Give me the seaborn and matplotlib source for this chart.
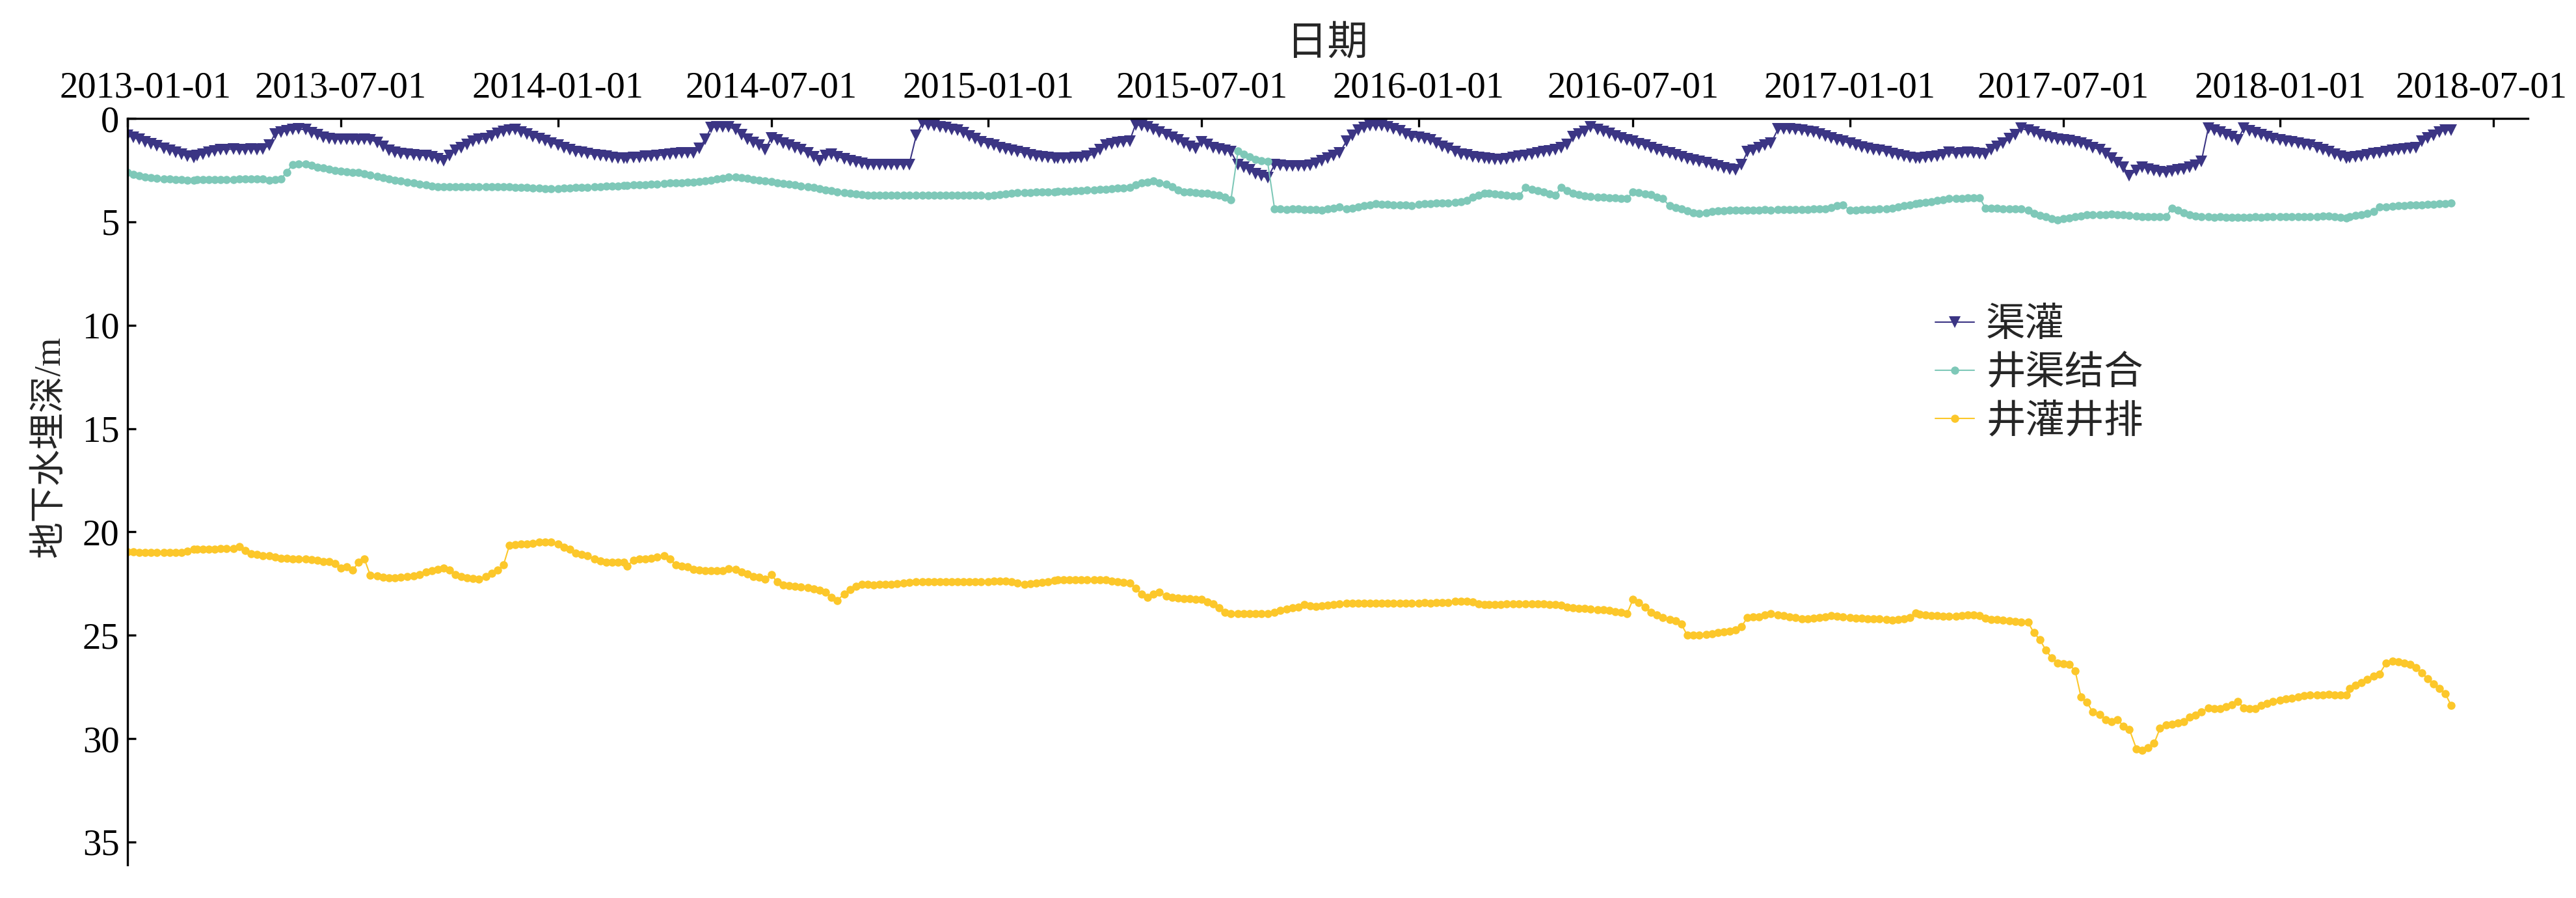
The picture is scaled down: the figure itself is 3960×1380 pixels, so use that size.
import numpy as np
import pandas as pd
import matplotlib
matplotlib.use("Agg")
import matplotlib.pyplot as plt
import matplotlib.transforms as mtransforms
import seaborn as sns

# sampling: six readings a month (1st, 6th, 11th, 16th, 21st, 26th)
months = pd.date_range("2013-01-01", "2018-05-01", freq="MS")
day_offsets = [0, 5, 10, 15, 20, 25]

names = ["渠灌", "井渠结合", "井灌井排"]
colors = ["#3b3584", "#7ec8b8", "#fcc72a"]

# 渠灌
canal = [
    0.83, 0.92, 1.02, 1.12, 1.22, 1.32,  # 2013
    1.44, 1.54, 1.64, 1.74, 1.82, 1.88,
    1.80, 1.72, 1.64, 1.58, 1.52, 1.50,
    1.48, 1.52, 1.50, 1.47, 1.50, 1.48,
    1.30, 0.75, 0.67, 0.60, 0.55, 0.51,
    0.55, 0.68, 0.80, 0.92, 0.98, 1.00,
    1.00, 1.02, 1.00, 1.04, 1.02, 1.04,
    1.15, 1.35, 1.55, 1.65, 1.70, 1.74,
    1.77, 1.80, 1.78, 1.85, 1.95, 2.03,
    1.80, 1.55, 1.40, 1.25, 1.10, 1.02,
    0.98, 0.85, 0.72, 0.62, 0.57, 0.55,
    0.65, 0.75, 0.88, 0.98, 1.08, 1.18,
    1.28, 1.40, 1.50, 1.60, 1.65, 1.70,  # 2014
    1.75, 1.80, 1.84, 1.88, 1.91, 1.93,
    1.92, 1.90, 1.88, 1.84, 1.82, 1.80,
    1.76, 1.72, 1.70, 1.68, 1.67, 1.66,
    1.45, 1.00, 0.45, 0.40, 0.42, 0.40,
    0.55, 0.80, 1.00, 1.15, 1.30, 1.50,
    0.93, 1.05, 1.20, 1.28, 1.40, 1.50,
    1.67, 1.85, 2.03, 1.80, 1.72, 1.85,
    1.95, 2.03, 2.12, 2.18, 2.22, 2.22,
    2.22, 2.22, 2.23, 2.22, 2.23, 2.22,
    0.83, 0.23, 0.30, 0.35, 0.41, 0.45,
    0.52, 0.57, 0.70, 0.85, 0.99, 1.12,
    1.22, 1.30, 1.40, 1.48, 1.55, 1.60,  # 2015
    1.68, 1.75, 1.82, 1.86, 1.90, 1.93,
    1.93, 1.92, 1.93, 1.90, 1.88, 1.84,
    1.70, 1.50, 1.30, 1.22, 1.15, 1.12,
    1.09, 0.30, 0.35, 0.41, 0.52, 0.65,
    0.78, 0.92, 1.05, 1.20, 1.35, 1.46,
    1.14, 1.25, 1.40, 1.48, 1.55, 1.61,
    2.24, 2.35, 2.50, 2.66, 2.78, 2.87,
    2.24, 2.28, 2.30, 2.30, 2.30, 2.30,
    2.28, 2.18, 2.03, 1.92, 1.80, 1.67,
    1.09, 0.83, 0.57, 0.45, 0.36, 0.34,
    0.34, 0.40, 0.50, 0.60, 0.75, 0.88,
    0.92, 0.98, 1.04, 1.20, 1.35, 1.45,  # 2016
    1.60, 1.72, 1.77, 1.85, 1.90, 1.93,
    1.95, 1.97, 1.98, 1.95, 1.88, 1.82,
    1.78, 1.72, 1.68, 1.62, 1.56, 1.51,
    1.40, 1.25, 0.88, 0.75, 0.62, 0.41,
    0.52, 0.62, 0.72, 0.85, 0.95, 1.05,
    1.09, 1.22, 1.30, 1.40, 1.50, 1.60,
    1.68, 1.75, 1.85, 1.95, 2.02, 2.09,
    2.15, 2.22, 2.30, 2.38, 2.45, 2.50,
    2.24, 1.61, 1.55, 1.40, 1.30, 1.20,
    0.51, 0.50, 0.51, 0.55, 0.58, 0.64,
    0.67, 0.75, 0.85, 0.95, 1.05, 1.10,
    1.20, 1.30, 1.38, 1.44, 1.50, 1.53,  # 2017
    1.62, 1.70, 1.77, 1.84, 1.90, 1.93,
    1.93, 1.90, 1.86, 1.84, 1.75, 1.65,
    1.70, 1.68, 1.65, 1.66, 1.70, 1.72,
    1.51, 1.35, 1.20, 0.99, 0.78, 0.48,
    0.58, 0.67, 0.80, 0.88, 0.95, 1.00,
    1.04, 1.08, 1.12, 1.20, 1.28, 1.40,
    1.51, 1.70, 1.93, 2.15, 2.35, 2.77,
    2.51, 2.35, 2.45, 2.52, 2.58, 2.61,
    2.56, 2.50, 2.45, 2.36, 2.25, 2.09,
    0.46, 0.58, 0.67, 0.78, 0.88, 1.04,
    0.46, 0.60, 0.70, 0.78, 0.88, 0.99,
    1.05, 1.10, 1.14, 1.20, 1.25, 1.30,  # 2018
    1.42, 1.51, 1.60, 1.72, 1.82, 1.93,
    1.90, 1.86, 1.82, 1.75, 1.70, 1.66,
    1.60, 1.55, 1.51, 1.48, 1.44, 1.40,
    1.09, 0.95, 0.83, 0.65, 0.57, 0.57,
]

# 井渠结合
combined = [
    2.61, 2.70, 2.76, 2.82, 2.87, 2.90,  # 2013
    2.92, 2.94, 2.96, 2.97, 2.98, 2.98,
    2.97, 2.96, 2.96, 2.96, 2.95, 2.96,
    2.95, 2.94, 2.93, 2.92, 2.92, 2.92,
    2.98, 2.95, 2.92, 2.61, 2.22, 2.19,
    2.19, 2.25, 2.35, 2.40, 2.45, 2.52,
    2.56, 2.58, 2.61, 2.62, 2.68, 2.75,
    2.80, 2.86, 2.92, 2.98, 3.03, 3.08,
    3.12, 3.18, 3.22, 3.26, 3.29, 3.29,
    3.29, 3.29, 3.30, 3.29, 3.29, 3.30,
    3.29, 3.30, 3.29, 3.30, 3.29, 3.32,
    3.33, 3.35, 3.37, 3.38, 3.40, 3.40,
    3.39, 3.38, 3.36, 3.35, 3.34, 3.33,  # 2014
    3.31, 3.30, 3.28, 3.27, 3.26, 3.24,
    3.24, 3.22, 3.21, 3.20, 3.19, 3.17,
    3.15, 3.13, 3.12, 3.10, 3.09, 3.08,
    3.06, 3.02, 2.98, 2.93, 2.88, 2.82,
    2.84, 2.86, 2.90, 2.95, 3.00, 3.03,
    3.06, 3.10, 3.14, 3.19, 3.22, 3.26,
    3.30, 3.34, 3.40, 3.45, 3.50, 3.55,
    3.58, 3.61, 3.64, 3.67, 3.70, 3.71,
    3.71, 3.71, 3.71, 3.72, 3.71, 3.71,
    3.71, 3.72, 3.71, 3.71, 3.72, 3.71,
    3.71, 3.70, 3.71, 3.70, 3.71, 3.72,
    3.76, 3.72, 3.68, 3.64, 3.61, 3.60,  # 2015
    3.59, 3.58, 3.57, 3.56, 3.55, 3.55,
    3.54, 3.53, 3.52, 3.50, 3.49, 3.47,
    3.45, 3.44, 3.42, 3.40, 3.38, 3.36,
    3.34, 3.20, 3.13, 3.08, 3.03, 3.10,
    3.19, 3.30, 3.45, 3.55, 3.57, 3.59,
    3.61, 3.63, 3.68, 3.71, 3.80, 3.92,
    1.56, 1.72, 1.85, 1.98, 2.05, 2.09,
    4.39, 4.39, 4.40, 4.39, 4.39, 4.40,
    4.40, 4.42, 4.44, 4.38, 4.33, 4.29,
    4.39, 4.33, 4.28, 4.23, 4.17, 4.13,
    4.14, 4.15, 4.17, 4.18, 4.20, 4.22,
    4.15, 4.13, 4.12, 4.10, 4.09, 4.08,  # 2016
    4.07, 4.03, 3.97, 3.82, 3.72, 3.61,
    3.63, 3.66, 3.68, 3.72, 3.74, 3.76,
    3.34, 3.42, 3.49, 3.56, 3.64, 3.71,
    3.34, 3.48, 3.61, 3.68, 3.74, 3.77,
    3.80, 3.82, 3.83, 3.85, 3.86, 3.87,
    3.55, 3.60, 3.64, 3.68, 3.80, 3.87,
    4.23, 4.32, 4.39, 4.48, 4.55, 4.60,
    4.55, 4.50, 4.48, 4.46, 4.45, 4.44,
    4.44, 4.44, 4.43, 4.43, 4.42, 4.43,
    4.42, 4.42, 4.41, 4.41, 4.40, 4.40,
    4.39, 4.39, 4.36, 4.30, 4.22, 4.18,
    4.44, 4.43, 4.42, 4.41, 4.40, 4.39,  # 2017
    4.37, 4.33, 4.28, 4.23, 4.18, 4.13,
    4.10, 4.07, 4.03, 3.97, 3.92, 3.88,
    3.87, 3.86, 3.85, 3.84, 3.84, 4.34,
    4.34, 4.35, 4.37, 4.38, 4.39, 4.39,
    4.45, 4.60, 4.70, 4.76, 4.85, 4.92,
    4.85, 4.80, 4.76, 4.71, 4.67, 4.65,
    4.65, 4.65, 4.64, 4.65, 4.65, 4.68,
    4.72, 4.74, 4.75, 4.75, 4.76, 4.76,
    4.34, 4.45, 4.55, 4.65, 4.71, 4.74,
    4.76, 4.77, 4.76, 4.77, 4.78, 4.78,
    4.78, 4.77, 4.76, 4.77, 4.76, 4.76,
    4.76, 4.76, 4.76, 4.75, 4.76, 4.76,  # 2018
    4.76, 4.73, 4.71, 4.75, 4.78, 4.81,
    4.76, 4.70, 4.65, 4.58, 4.50, 4.29,
    4.27, 4.25, 4.23, 4.21, 4.20, 4.19,
    4.18, 4.16, 4.14, 4.13, 4.11, 4.10,
]

# 井灌井排
well = [
    20.95, 20.97, 20.98, 20.98, 20.99, 21.00,  # 2013
    20.99, 21.00, 20.99, 20.98, 20.92, 20.85,
    20.85, 20.84, 20.83, 20.83, 20.82, 20.82,
    20.81, 20.71, 20.90, 21.06, 21.10, 21.14,
    21.16, 21.22, 21.27, 21.29, 21.31, 21.32,
    21.32, 21.35, 21.38, 21.42, 21.44, 21.53,
    21.74, 21.70, 21.84, 21.48, 21.32, 22.11,
    22.13, 22.18, 22.21, 22.22, 22.20, 22.16,
    22.12, 22.05, 21.95, 21.88, 21.80, 21.74,
    21.85, 22.06, 22.15, 22.21, 22.25, 22.27,
    22.15, 22.00, 21.84, 21.58, 20.64, 20.62,
    20.60, 20.59, 20.55, 20.50, 20.48, 20.48,
    20.59, 20.75, 20.85, 21.01, 21.10, 21.16,  # 2014
    21.30, 21.40, 21.48, 21.48, 21.48, 21.48,
    21.64, 21.37, 21.32, 21.30, 21.27, 21.22,
    21.16, 21.32, 21.58, 21.65, 21.69, 21.80,
    21.84, 21.86, 21.87, 21.88, 21.86, 21.79,
    21.82, 21.95, 22.03, 22.16, 22.20, 22.27,
    22.06, 22.42, 22.58, 22.60, 22.63, 22.65,
    22.68, 22.75, 22.82, 22.90, 23.16, 23.31,
    23.00, 22.79, 22.63, 22.55, 22.53, 22.58,
    22.55, 22.53, 22.53, 22.50, 22.47, 22.45,
    22.42, 22.42, 22.41, 22.42, 22.41, 22.41,
    22.41, 22.40, 22.41, 22.40, 22.40, 22.40,
    22.40, 22.39, 22.38, 22.37, 22.40, 22.47,  # 2015
    22.55, 22.50, 22.47, 22.44, 22.42, 22.35,
    22.32, 22.32, 22.33, 22.32, 22.32, 22.32,
    22.32, 22.32, 22.33, 22.38, 22.42, 22.45,
    22.47, 22.74, 23.00, 23.16, 23.00, 22.90,
    23.11, 23.18, 23.21, 23.22, 23.24, 23.25,
    23.26, 23.40, 23.47, 23.68, 23.89, 23.94,
    23.94, 23.95, 23.94, 23.95, 23.94, 23.94,
    23.88, 23.80, 23.73, 23.68, 23.63, 23.52,
    23.58, 23.60, 23.57, 23.54, 23.52, 23.47,
    23.45, 23.45, 23.46, 23.45, 23.45, 23.45,
    23.45, 23.44, 23.45, 23.44, 23.45, 23.44,
    23.44, 23.43, 23.44, 23.43, 23.42, 23.42,  # 2016
    23.36, 23.36, 23.36, 23.40, 23.48, 23.52,
    23.52, 23.52, 23.50, 23.48, 23.47, 23.47,
    23.47, 23.47, 23.47, 23.48, 23.50, 23.52,
    23.55, 23.63, 23.66, 23.69, 23.71, 23.73,
    23.75, 23.77, 23.79, 23.85, 23.89, 23.94,
    23.26, 23.42, 23.63, 23.89, 24.00, 24.15,
    24.25, 24.31, 24.47, 24.99, 24.99, 24.99,
    24.96, 24.92, 24.88, 24.84, 24.80, 24.75,
    24.57, 24.15, 24.12, 24.10, 24.02, 23.94,
    24.00, 24.05, 24.10, 24.15, 24.20, 24.19,
    24.17, 24.15, 24.10, 24.05, 24.08, 24.12,
    24.15, 24.17, 24.18, 24.19, 24.20, 24.20,  # 2017
    24.22, 24.26, 24.24, 24.20, 24.15, 23.92,
    23.98, 24.02, 24.05, 24.06, 24.08, 24.09,
    24.08, 24.04, 24.00, 24.02, 24.05, 24.18,
    24.22, 24.25, 24.28, 24.31, 24.33, 24.35,
    24.36, 24.88, 25.20, 25.70, 26.09, 26.35,
    26.38, 26.41, 26.71, 27.98, 28.24, 28.72,
    28.82, 29.08, 29.18, 29.08, 29.39, 29.55,
    30.49, 30.55, 30.44, 30.23, 29.50, 29.34,
    29.29, 29.24, 29.18, 28.97, 28.87, 28.72,
    28.51, 28.56, 28.56, 28.45, 28.35, 28.19,
    28.51, 28.56, 28.56, 28.40, 28.30, 28.19,
    28.14, 28.08, 28.03, 27.98, 27.93, 27.88,  # 2018
    27.88, 27.88, 27.87, 27.88, 27.88, 27.88,
    27.56, 27.41, 27.30, 27.14, 26.98, 26.88,
    26.33, 26.25, 26.28, 26.35, 26.41, 26.56,
    26.83, 27.09, 27.35, 27.56, 27.82, 28.40,
]

y_ticks = [0, 5, 10, 15, 20, 25, 30, 35]
x_ticks = pd.date_range("2013-01-01", "2018-07-01", freq="6MS")


def build_frame():
    dates = [m + pd.Timedelta(days=d) for m in months for d in day_offsets]
    df = pd.DataFrame({"date": dates, names[0]: canal,
                       names[1]: combined, names[2]: well})
    return df.melt(id_vars="date", var_name="type", value_name="depth")


def draw(data):
    sns.set_style("white")
    plt.rcParams["font.family"] = ["Liberation Serif", "Noto Sans CJK SC"]
    plt.rcParams["axes.unicode_minus"] = False

    fig, ax = plt.subplots(figsize=(13.2, 4.6), dpi=300)
    fig.subplots_adjust(left=0.0495, right=0.9813, top=0.8681, bottom=0.037)

    markers = {"渠灌": ("v", 4.3), "井渠结合": ("o", 3.0), "井灌井排": ("o", 3.0)}
    for name, color in zip(names, colors):
        mk, ms = markers[name]
        sns.lineplot(data=data[data["type"] == name], x="date", y="depth",
                     color=color, marker=mk, markersize=ms, markeredgewidth=0,
                     linewidth=0.5, label=name, ax=ax)

    ax.set_xlim(pd.Timestamp("2013-01-01"), pd.Timestamp("2018-07-30"))
    ax.set_ylim(36.1, 0)
    ax.set_yticks(y_ticks)
    ax.set_xticks(x_ticks)
    ax.set_xticklabels([d.strftime("%Y-%m-%d") for d in x_ticks])

    ax.xaxis.tick_top()
    ax.xaxis.set_label_position("top")
    ax.set_xlabel("日期", fontsize=15, labelpad=6)
    ax.set_ylabel("地下水埋深/m", fontsize=13.5)
    ax.yaxis.set_label_coords(-0.0252, 0.56)

    for side in ["right", "bottom"]:
        ax.spines[side].set_visible(False)
    for side in ["left", "top"]:
        ax.spines[side].set_color("black")
        ax.spines[side].set_linewidth(0.8)

    ax.tick_params(axis="both", direction="in", length=3.2, width=0.8,
                   colors="black", labelsize=13.6)
    ax.tick_params(axis="x", pad=5, top=True, bottom=False)
    ax.tick_params(axis="y", pad=3, left=True)

    # end labels sit a little inward, as in the original
    labels = ax.get_xticklabels()
    labels[0].set_transform(labels[0].get_transform() +
                            mtransforms.ScaledTranslation(6.5 / 72, 0, fig.dpi_scale_trans))
    labels[-1].set_transform(labels[-1].get_transform() +
                             mtransforms.ScaledTranslation(-4.6 / 72, 0, fig.dpi_scale_trans))

    ax.legend(loc="center left", bbox_to_anchor=(0.753, 0.657), frameon=False,
              borderaxespad=0, borderpad=0, handlelength=1.0,
              handletextpad=0.3, labelspacing=0.29, fontsize=14.5)

    fig.savefig("out.png", dpi=300)


def main():
    data = build_frame()
    draw(data)


if __name__ == "__main__":
    main()
